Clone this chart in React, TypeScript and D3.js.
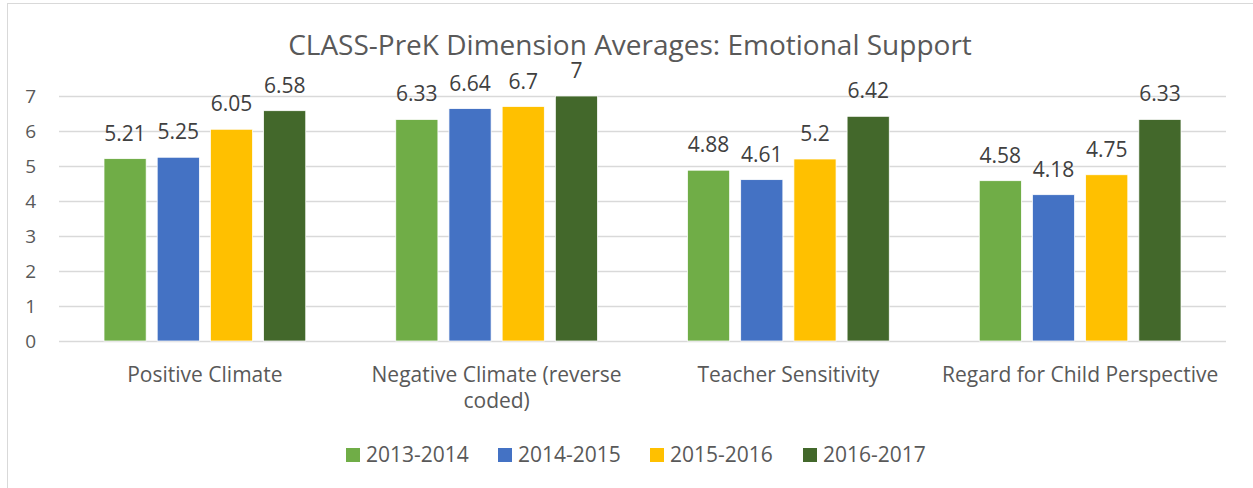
import React, { useEffect, useRef } from 'react';
import * as d3 from 'd3';

const categories = [
  'Positive Climate',
  'Negative Climate (reverse coded)',
  'Teacher Sensitivity',
  'Regard for Child Perspective',
];
const seriesNames = ['2013-2014', '2014-2015', '2015-2016', '2016-2017'];
const colors = ['#70AD47', '#4472C4', '#FFC000', '#43682B'];

const values2013 = [5.21, 6.33, 4.88, 4.58];
const values2014 = [5.25, 6.64, 4.61, 4.18];
const values2015 = [6.05, 6.7, 5.2, 4.75];
const values2016 = [6.58, 7, 6.42, 6.33];
const allValues = [values2013, values2014, values2015, values2016];

const yTicks = [0, 1, 2, 3, 4, 5, 6, 7];

const W = 1253;
const H = 488;
const FONT = '"Open Sans", "Noto Sans", sans-serif';
const TEXT = '#595959';

const App = () => {
  const ref = useRef<SVGSVGElement>(null);

  useEffect(() => {
    const svg = d3.select(ref.current);
    svg.selectAll('*').remove();

    // chart frame
    svg.append('rect')
      .attr('x', 7.5).attr('y', 3.5)
      .attr('width', W + 20).attr('height', H + 20)
      .attr('fill', '#fff').attr('stroke', '#d9d9d9').attr('stroke-width', 1);

    const left = 59, right = 1226, top = 96, bottom = 341;

    const x0 = d3.scaleBand().domain(categories).range([left, right]).padding(0);
    const x1 = d3.scaleBand()
      .domain(seriesNames)
      .range([45, x0.bandwidth() - 45])
      .paddingInner(0.2075)
      .paddingOuter(0);
    const y = d3.scaleLinear().domain([0, 7]).range([bottom, top]);

    // gridlines
    svg.append('g').selectAll('line')
      .data(yTicks).enter().append('line')
      .attr('x1', left).attr('x2', right)
      .attr('y1', d => Math.round(y(d)) + 0.5).attr('y2', d => Math.round(y(d)) + 0.5)
      .attr('stroke', '#d9d9d9').attr('stroke-width', 1.5);

    // y tick labels
    svg.append('g').selectAll('text')
      .data(yTicks).enter().append('text')
      .attr('x', 36).attr('y', d => y(d) + 7)
      .attr('text-anchor', 'end')
      .style('font-family', FONT).style('font-size', '19px').attr('fill', TEXT)
      .text(d => d);

    // bars
    seriesNames.forEach((s, si) => {
      const g = svg.append('g');
      g.selectAll('rect')
        .data(categories).enter().append('rect')
        .attr('x', (c) => (x0(c) as number) + (x1(s) as number))
        .attr('y', (c, i) => y(allValues[si][i]))
        .attr('width', x1.bandwidth())
        .attr('height', (c, i) => bottom - y(allValues[si][i]))
        .attr('fill', colors[si])
        .attr('stroke', '#fff').attr('stroke-width', 0.75);

      g.selectAll('text')
        .data(categories).enter().append('text')
        .attr('x', (c) => (x0(c) as number) + (x1(s) as number) + x1.bandwidth() / 2)
        .attr('y', (c, i) => y(allValues[si][i]) - 18)
        .attr('text-anchor', 'middle')
        .style('font-family', FONT).style('font-size', '21px').attr('fill', '#404040')
        .text((c, i) => allValues[si][i]);
    });

    // category labels, wrapped
    const catG = svg.append('g');
    categories.forEach(c => {
      const cx = (x0(c) as number) + x0.bandwidth() / 2;
      const t = catG.append('text')
        .attr('x', cx).attr('y', 382)
        .attr('text-anchor', 'middle')
        .style('font-family', FONT).style('font-size', '21px').attr('fill', TEXT);
      const words = c.split(' ');
      let line: string[] = [];
      let lineNo = 0;
      let tspan = t.append('tspan').attr('x', cx).attr('y', 382);
      words.forEach(w => {
        line.push(w);
        tspan.text(line.join(' '));
        const node = tspan.node() as SVGTSpanElement;
        if (node.getComputedTextLength() > 285 && line.length > 1) {
          line.pop();
          tspan.text(line.join(' '));
          line = [w];
          lineNo += 1;
          tspan = t.append('tspan').attr('x', cx).attr('y', 382 + lineNo * 26).text(w);
        }
      });
    });

    // title
    svg.append('text')
      .attr('x', 630).attr('y', 55)
      .attr('text-anchor', 'middle')
      .style('font-family', FONT).style('font-size', '28px').attr('fill', TEXT)
      .text('CLASS-PreK Dimension Averages: Emotional Support');

    // legend
    const legendX = [346, 498, 650, 803];
    const lg = svg.append('g');
    seriesNames.forEach((s, i) => {
      lg.append('rect')
        .attr('x', legendX[i]).attr('y', 448)
        .attr('width', 14).attr('height', 14)
        .attr('fill', colors[i]);
      lg.append('text')
        .attr('x', legendX[i] + 20).attr('y', 462)
        .style('font-family', FONT).style('font-size', '21px').attr('fill', TEXT)
        .text(s);
    });
  }, []);

  return (
    <svg
      ref={ref}
      width={W}
      height={H}
      style={{ position: 'absolute', left: 0, top: 0, display: 'block', background: '#fff' }}
    />
  );
};

export default App;
